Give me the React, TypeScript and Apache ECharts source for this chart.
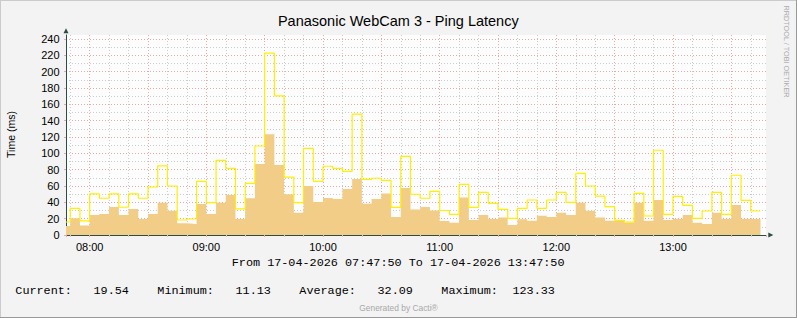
import React, { useEffect, useRef } from 'react';
import * as echarts from 'echarts';

// ---- time frame (minutes since midnight) ----
const START_MIN = 7 * 60 + 47 + 50 / 60; // 07:47:50
const END_MIN = 13 * 60 + 47 + 50 / 60; // 13:47:50
const FIRST_STEP_MIN = 7 * 60 + 50; // 07:50, first full 5-min step
const STEP_MIN = 5;

// ---- data: 5-minute consolidated ping latency (ms) ----
const avgMs = [
  11.13, 20.4, 11.5, 24.5, 25.7, 34.3, 24.5, 31.9, 19.6, 25.7,
  39.6, 29.8, 14.3, 13.5, 38.0, 25.7, 39.6, 49.0, 19.6, 45.0,
  87.0, 123.33, 85.8, 49.9, 27.4, 60.0, 40.5, 45.4, 44.1, 56.4,
  68.7, 38.4, 44.1, 50.7, 22.1, 57.6, 31.1, 34.3, 30.0, 17.2,
  15.1, 45.8, 18.4, 24.5, 19.6, 21.3, 12.3, 19.2, 17.6, 23.7,
  22.1, 27.4, 24.5, 39.6, 29.8, 21.3, 17.6, 17.0, 15.1, 39.6,
  17.6, 42.9, 18.4, 19.6, 24.5, 15.1, 13.5, 27.4, 19.6, 36.8,
  19.6, 19.54,
];
const maxMs = [
  15.9, 32.7, 17.2, 50.3, 45.0, 50.3, 34.0, 50.3, 45.0, 58.8,
  84.6, 60.0, 18.4, 19.6, 65.8, 39.6, 91.5, 81.7, 31.9, 63.3,
  109.0, 222.7, 170.4, 71.0, 39.6, 106.0, 65.8, 84.2, 81.7, 78.0,
  148.0, 68.2, 69.5, 67.0, 33.9, 96.4, 49.9, 45.0, 53.5, 30.0,
  25.3, 62.1, 33.9, 52.3, 38.8, 31.5, 20.4, 32.7, 42.9, 32.7,
  42.9, 52.3, 40.0, 75.6, 60.0, 47.6, 34.7, 18.0, 15.8, 51.0,
  23.3, 103.8, 25.3, 47.4, 36.4, 20.4, 29.4, 52.3, 25.3, 73.2,
  42.5, 29.4,
];

const yTickLabels = ['0', '20', '40', '60', '80', '100', '120', '140', '160', '180', '200', '220', '240'];
const hourLabels = ['08:00', '09:00', '10:00', '11:00', '12:00', '13:00'];
const statNames = ['Current:', 'Minimum:', 'Average:', 'Maximum:'];
const statValues = ['19.54', '11.13', '32.09', '123.33'];

const TITLE = 'Panasonic WebCam 3 - Ping Latency';
const Y_NAME = 'Time (ms)';
const RANGE_TEXT = 'From 17-04-2026 07:47:50 To 17-04-2026 13:47:50';
const WATERMARK = 'RRDTOOL / TOBI OETIKER';
const GENERATED = 'Generated by Cacti\u00AE';

// ---- styles ----
const BG = '#F3F3F3';
const CANVAS = '#FDFDFD';
const AXIS = '#2C4D43';
const FILL = '#F1CD88';
const YELLOW = '#FFF000';
const MGRID = '#E9A8A8';
const GRID = '#CBCBCB';
const SANS = 'Liberation Sans';
const MONO = 'Liberation Mono';

function stepTimes(n: number): number[] {
  const t: number[] = [START_MIN];
  for (let k = 1; k < n; k++) t.push(FIRST_STEP_MIN + STEP_MIN * (k - 1));
  return t;
}

function toStepData(values: number[]): [number, number][] {
  const t = stepTimes(values.length);
  const d: [number, number][] = values.map((v, i) => [t[i], v]);
  const last = values[values.length - 1];
  d.push([FIRST_STEP_MIN + STEP_MIN * (values.length - 1), last]);
  return d;
}

function hourLabel(v: number): string {
  if (Math.abs(v % 60) > 1e-6) return '';
  const h = Math.round(v / 60);
  const lab = hourLabels.find((s) => parseInt(s, 10) === h);
  return lab || '';
}

function yLabel(v: number): string {
  const s = String(Math.round(v));
  return yTickLabels.includes(s) && Math.abs(v - Math.round(v)) < 1e-6 ? s : '';
}

export default function App() {
  const ref = useRef<HTMLDivElement>(null);

  useEffect(() => {
    document.body.style.margin = '0';
    if (!ref.current) return;
    const chart = echarts.init(ref.current, undefined, { renderer: 'svg' });

    const dotted = (color: string) => ({ color, width: 1, type: [1, 2] as number[] });

    const CH = 7.1; // monospace char width
    const X0 = 15.3;
    const statGraphics: any[] = [];
    statNames.forEach((name, i) => {
      const col = i * 20;
      statGraphics.push({
        type: 'text',
        x: X0 + col * CH,
        y: 290.7,
        style: { text: name, fontSize: 11.8, fontFamily: MONO, fill: '#000', align: 'left', verticalAlign: 'middle' },
      });
      statGraphics.push({
        type: 'text',
        x: X0 + (col + 16) * CH,
        y: 290.7,
        style: { text: statValues[i], fontSize: 11.8, fontFamily: MONO, fill: '#000', align: 'right', verticalAlign: 'middle' },
      });
    });

    const option: any = {
      animation: false,
      backgroundColor: BG,
      grid: {
        left: 66,
        top: 35,
        width: 700,
        height: 200,
        show: true,
        backgroundColor: CANVAS,
        borderWidth: 0,
        containLabel: false,
        outerBoundsMode: 'none',
      },
      xAxis: [
        {
          type: 'value', min: START_MIN, max: END_MIN, minInterval: 10, maxInterval: 10,
          position: 'bottom',
          axisLine: { show: false, onZero: false },
          axisLabel: { show: false },
          axisTick: { show: true, length: 2, lineStyle: { color: GRID } },
          splitLine: { show: true, showMinLine: false, showMaxLine: false, lineStyle: dotted(GRID) },
        },
        {
          type: 'value', min: START_MIN, max: END_MIN, minInterval: 30, maxInterval: 30,
          position: 'bottom',
          axisLine: { show: false, onZero: false },
          axisLabel: { show: false },
          axisTick: { show: true, length: 2, lineStyle: { color: MGRID } },
          splitLine: { show: true, showMinLine: false, showMaxLine: false, lineStyle: dotted(MGRID) },
        },
        {
          type: 'value', min: START_MIN, max: END_MIN, minInterval: 60, maxInterval: 60,
          position: 'bottom',
          axisLine: {
            show: true, onZero: false,
            lineStyle: { color: AXIS, width: 1 },
            symbol: ['none', 'triangle'], symbolSize: [5, 5], symbolOffset: [0, 4.8],
          },
          axisTick: { show: false },
          splitLine: { show: false },
          axisLabel: {
            show: true, formatter: hourLabel, showMinLabel: false, showMaxLabel: false,
            margin: 6, fontSize: 11, fontFamily: SANS, color: '#000',
          },
        },
      ],
      yAxis: [
        {
          type: 'value', min: 0, max: 245, interval: 10, position: 'left',
          axisLine: { show: false, onZero: false },
          axisLabel: { show: false },
          axisTick: { show: false },
          splitLine: { show: true, showMinLine: false, showMaxLine: false, lineStyle: dotted(GRID) },
        },
        {
          type: 'value', min: 0, max: 245, interval: 20, position: 'left',
          axisLine: {
            show: true, onZero: false,
            lineStyle: { color: AXIS, width: 1 },
            symbol: ['none', 'triangle'], symbolSize: [5, 5], symbolOffset: [0, 4.2],
          },
          axisTick: { show: true, length: 2, lineStyle: { color: MGRID } },
          splitLine: { show: true, showMinLine: false, showMaxLine: false, lineStyle: dotted(MGRID) },
          axisLabel: {
            show: true, formatter: yLabel, showMaxLabel: false,
            margin: 6.5, fontSize: 11, fontFamily: SANS, color: '#000',
          },
        },
      ],
      series: [
        {
          name: 'Average',
          type: 'line',
          xAxisIndex: 2,
          yAxisIndex: 1,
          step: 'end',
          data: toStepData(avgMs),
          symbol: 'none',
          silent: true,
          lineStyle: { width: 0, color: FILL },
          areaStyle: { color: FILL, opacity: 1 },
          z: 2,
        },
        {
          name: 'Maximum',
          type: 'line',
          xAxisIndex: 2,
          yAxisIndex: 1,
          step: 'end',
          data: toStepData(maxMs),
          symbol: 'none',
          silent: true,
          lineStyle: { width: 1.2, color: YELLOW },
          z: 3,
        },
      ],
      graphic: [
        { type: 'line', shape: { x1: 0, y1: 0.5, x2: 797, y2: 0.5 }, style: { stroke: '#CBCBCB', lineWidth: 1 } },
        { type: 'line', shape: { x1: 0.5, y1: 0, x2: 0.5, y2: 318 }, style: { stroke: '#CBCBCB', lineWidth: 1 } },
        { type: 'line', shape: { x1: 796.5, y1: 0, x2: 796.5, y2: 318 }, style: { stroke: '#999999', lineWidth: 1 } },
        { type: 'line', shape: { x1: 0, y1: 317.5, x2: 797, y2: 317.5 }, style: { stroke: '#999999', lineWidth: 1 } },
        {
          type: 'text', x: 398.3, y: 21.2,
          style: { text: TITLE, fontSize: 14.5, fontFamily: SANS, fill: '#000', align: 'center', verticalAlign: 'middle' },
        },
        {
          type: 'text', x: 11, y: 134.5, rotation: Math.PI / 2,
          style: { text: Y_NAME, fontSize: 10.5, fontFamily: SANS, fill: '#000', align: 'center', verticalAlign: 'middle' },
        },
        {
          type: 'text', x: 786, y: 51.5, rotation: -Math.PI / 2,
          style: { text: WATERMARK, fontSize: 7.3, fontFamily: SANS, fill: '#ABABAB', align: 'center', verticalAlign: 'middle' },
        },
        {
          type: 'text', x: 398.1, y: 263.3,
          style: { text: RANGE_TEXT, fontSize: 11.8, fontFamily: MONO, fill: '#000', align: 'center', verticalAlign: 'middle' },
        },
        ...statGraphics,
        {
          type: 'text', x: 398.5, y: 307.7,
          style: { text: GENERATED, fontSize: 8.4, fontFamily: SANS, fill: '#A8A8A8', align: 'center', verticalAlign: 'middle' },
        },
      ],
    };

    chart.setOption(option);
    return () => chart.dispose();
  }, []);

  return <div ref={ref} style={{ width: 797, height: 318 }} />;
}
